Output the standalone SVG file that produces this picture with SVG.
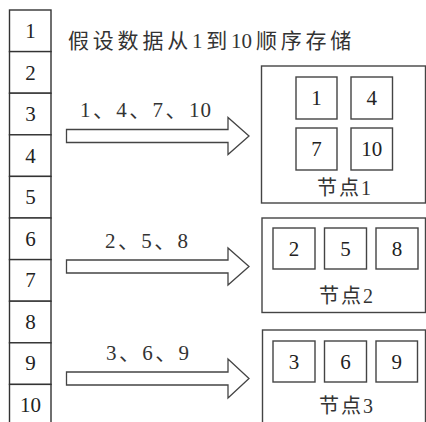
<svg xmlns="http://www.w3.org/2000/svg" width="426" height="422" viewBox="0 0 426 422">
<style>
.c{fill:#fff;stroke:#333;stroke-width:1.4}
.n{fill:#fff;stroke:#444;stroke-width:1.4}
.a{fill:#fff;stroke:#444;stroke-width:1.3;stroke-linejoin:miter}
.d{font-family:'Liberation Serif','Times New Roman',serif;font-size:21px;fill:#222;text-anchor:middle}
.l{font-family:'Liberation Serif','Noto Sans CJK SC',serif;font-size:21px;fill:#333;letter-spacing:2.4px}
.k{font-family:'Liberation Serif','Noto Sans CJK SC',serif;font-size:21px;fill:#333;letter-spacing:3.8px}
.t{font-family:'Liberation Serif','Noto Sans CJK SC',serif;font-size:20px;fill:#333;text-anchor:middle;letter-spacing:2px}
.z{letter-spacing:0}
</style>
<rect width="426" height="422" fill="#fff"/>
<g id="array">
<rect class="c" x="9.5" y="10" width="41.5" height="41.6"/>
<rect class="c" x="9.5" y="51.6" width="41.5" height="41.6"/>
<rect class="c" x="9.5" y="93.2" width="41.5" height="41.6"/>
<rect class="c" x="9.5" y="134.8" width="41.5" height="41.6"/>
<rect class="c" x="9.5" y="176.4" width="41.5" height="41.6"/>
<rect class="c" x="9.5" y="218" width="41.5" height="41.6"/>
<rect class="c" x="9.5" y="259.6" width="41.5" height="41.6"/>
<rect class="c" x="9.5" y="301.2" width="41.5" height="41.6"/>
<rect class="c" x="9.5" y="342.8" width="41.5" height="41.6"/>
<rect class="c" x="9.5" y="384.4" width="41.5" height="41.6"/>
<text class="d" x="30.5" y="38">1</text>
<text class="d" x="30.5" y="79.5">2</text>
<text class="d" x="30.5" y="121">3</text>
<text class="d" x="30.5" y="162.5">4</text>
<text class="d" x="30.5" y="204">5</text>
<text class="d" x="30.5" y="245.5">6</text>
<text class="d" x="30.5" y="287">7</text>
<text class="d" x="30.5" y="328.5">8</text>
<text class="d" x="30.5" y="370">9</text>
<text class="d" x="30.5" y="411.5">10</text>
</g>
<g id="title">
<text class="k" x="68" y="48">假设数据从1到<tspan class="z">1</tspan>0顺序存储</text>
</g>
<g id="connectors">
<polygon class="a" points="66.5,129.5 228,129.5 228,117.5 249,136 228,154.5 228,142.5 66.5,142.5"/>
<polygon class="a" points="66.5,260 228,260 228,248 249,266.5 228,285 228,273 66.5,273"/>
<polygon class="a" points="66.5,372 228,372 228,359 249,378.5 228,398 228,385 66.5,385"/>
<text class="l" x="80" y="117">1、4、7、<tspan style="letter-spacing:1px">10</tspan></text>
<text class="l" x="105" y="248">2、5、8</text>
<text class="l" x="106" y="360">3、6、9</text>
</g>
<g id="node1">
<rect class="n" x="261.5" y="66" width="164" height="137"/>
<rect class="n" x="296" y="77" width="41" height="42"/>
<rect class="n" x="351" y="77" width="41.5" height="42"/>
<rect class="n" x="296" y="128" width="41" height="42"/>
<rect class="n" x="351" y="128" width="41.5" height="42"/>
<text class="d" x="316.5" y="105">1</text>
<text class="d" x="371.7" y="105">4</text>
<text class="d" x="316.5" y="156">7</text>
<text class="d" x="371.7" y="156">10</text>
<text class="t" x="345" y="195">节点1</text>
</g>
<g id="node2">
<rect class="n" x="262" y="218" width="163.5" height="94.5"/>
<rect class="n" x="273" y="228" width="42" height="41"/>
<rect class="n" x="324.5" y="228" width="42" height="41"/>
<rect class="n" x="376" y="228" width="42" height="41"/>
<text class="d" x="294" y="256">2</text>
<text class="d" x="345.5" y="256">5</text>
<text class="d" x="397" y="256">8</text>
<text class="t" x="347" y="303">节点2</text>
</g>
<g id="node3">
<rect class="n" x="262.5" y="330" width="163" height="100"/>
<rect class="n" x="273" y="341" width="42" height="41"/>
<rect class="n" x="324.5" y="341" width="42" height="41"/>
<rect class="n" x="376" y="341" width="41.5" height="41"/>
<text class="d" x="294" y="369">3</text>
<text class="d" x="345.5" y="369">6</text>
<text class="d" x="396.7" y="369">9</text>
<text class="t" x="347" y="413">节点3</text>
</g>
</svg>
